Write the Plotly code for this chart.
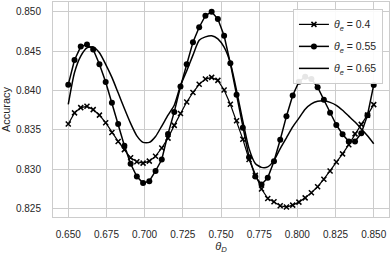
import numpy as np
import plotly.graph_objects as go

theta_d = np.linspace(0.65, 0.85, 50)

acc_04 = [0.83575, 0.83717, 0.83783, 0.83800, 0.83758, 0.83688, 0.83592, 0.83467, 0.83354, 0.83250,
          0.83146, 0.83096, 0.83079, 0.83104, 0.83167, 0.83271, 0.83396, 0.83558, 0.83708, 0.83854,
          0.83975, 0.84079, 0.84146, 0.84167, 0.84129, 0.84008, 0.83825, 0.83617, 0.83383, 0.83125,
          0.82925, 0.82750, 0.82631, 0.82588, 0.82538, 0.82521, 0.82546, 0.82584, 0.82638, 0.82704,
          0.82779, 0.82875, 0.82979, 0.83092, 0.83196, 0.83313, 0.83450, 0.83571, 0.83688, 0.83821]

acc_055 = [0.84075, 0.84388, 0.84558, 0.84583, 0.84521, 0.84333, 0.84108, 0.83846, 0.83575, 0.83300,
           0.83071, 0.82908, 0.82825, 0.82850, 0.82979, 0.83125, 0.83450, 0.83729, 0.84050, 0.84333,
           0.84613, 0.84804, 0.84950, 0.85000, 0.84908, 0.84696, 0.84346, 0.83946, 0.83529, 0.83154,
           0.82908, 0.82808, 0.82892, 0.83104, 0.83375, 0.83675, 0.83938, 0.84113, 0.84175, 0.84146,
           0.84042, 0.83884, 0.83717, 0.83563, 0.83446, 0.83354, 0.83354, 0.83458, 0.83688, 0.84071]

acc_065 = [0.83825, 0.84229, 0.84438, 0.84542, 0.84554, 0.84479, 0.84333, 0.84167, 0.83971, 0.83771,
           0.83583, 0.83425, 0.83342, 0.83342, 0.83417, 0.83550, 0.83688, 0.83813, 0.84063, 0.84250,
           0.84450, 0.84638, 0.84681, 0.84696, 0.84656, 0.84550, 0.84350, 0.84000, 0.83613, 0.83263,
           0.83075, 0.83025, 0.83031, 0.83113, 0.83263, 0.83400, 0.83538, 0.83650, 0.83763, 0.83831,
           0.83863, 0.83869, 0.83850, 0.83813, 0.83750, 0.83675, 0.83600, 0.83513, 0.83425, 0.83325]

x_ticks = [0.650, 0.675, 0.700, 0.725, 0.750, 0.775, 0.800, 0.825, 0.850]
y_ticks = [0.825, 0.830, 0.835, 0.840, 0.845, 0.850]

FONT = "Liberation Sans, Arial, sans-serif"
TXT = "#262626"
GRID = "#cccccc"

fig = go.Figure()
fig.add_trace(go.Scatter(
    x=theta_d, y=acc_04, mode="lines+markers",
    name="<i>θ<sub>e</sub></i> = 0.4", legendgroup="a",
    line=dict(color="black", width=1.2),
    marker=dict(symbol="x-thin", size=5, line=dict(color="black", width=1.5)),
))
fig.add_trace(go.Scatter(
    x=theta_d, y=acc_055, mode="lines+markers",
    name="<i>θ<sub>e</sub></i> = 0.55", legendgroup="b",
    line=dict(color="black", width=1.5),
    marker=dict(symbol="circle", size=6, color="black"),
))
fig.add_trace(go.Scatter(
    x=theta_d, y=acc_065, mode="lines",
    name="<i>θ<sub>e</sub></i> = 0.65", legendgroup="c",
    line=dict(color="black", width=1.5, shape="spline", smoothing=0.6),
))

fig.update_layout(
    width=392, height=254,
    margin=dict(l=53, r=3, t=1, b=36),
    paper_bgcolor="white", plot_bgcolor="white",
    font=dict(family=FONT, size=10, color=TXT),
    showlegend=True,
    legend=dict(
        x=0.982, y=0.968, xanchor="right", yanchor="top",
        bgcolor="rgba(255,255,255,0.9)", bordercolor=GRID, borderwidth=1,
        font=dict(size=10.5, color=TXT), itemwidth=30, tracegroupgap=3,
    ),
    xaxis=dict(
        range=[0.64, 0.86], tickvals=x_ticks, ticktext=[f"{v:.3f}" for v in x_ticks],
        showgrid=True, gridcolor=GRID, gridwidth=1, zeroline=False,
        showline=True, linecolor=GRID, linewidth=1, mirror=True,
        ticks="", ticklabelstandoff=8,
        title=dict(text="<i>θ<sub>D</sub></i>", font=dict(size=11, color=TXT), standoff=5),
    ),
    yaxis=dict(
        range=[0.82395, 0.85124], tickvals=y_ticks, ticktext=[f"{v:.3f}" for v in y_ticks],
        showgrid=True, gridcolor=GRID, gridwidth=1, zeroline=False,
        showline=True, linecolor=GRID, linewidth=1, mirror=True,
        ticks="", ticklabelstandoff=9,
        title=dict(text="Accuracy", font=dict(size=11, color=TXT), standoff=4),
    ),
)

fig.write_html("out.html", config={"displayModeBar": False},
               post_script="document.body.style.margin='0px';document.body.style.overflow='hidden';")
